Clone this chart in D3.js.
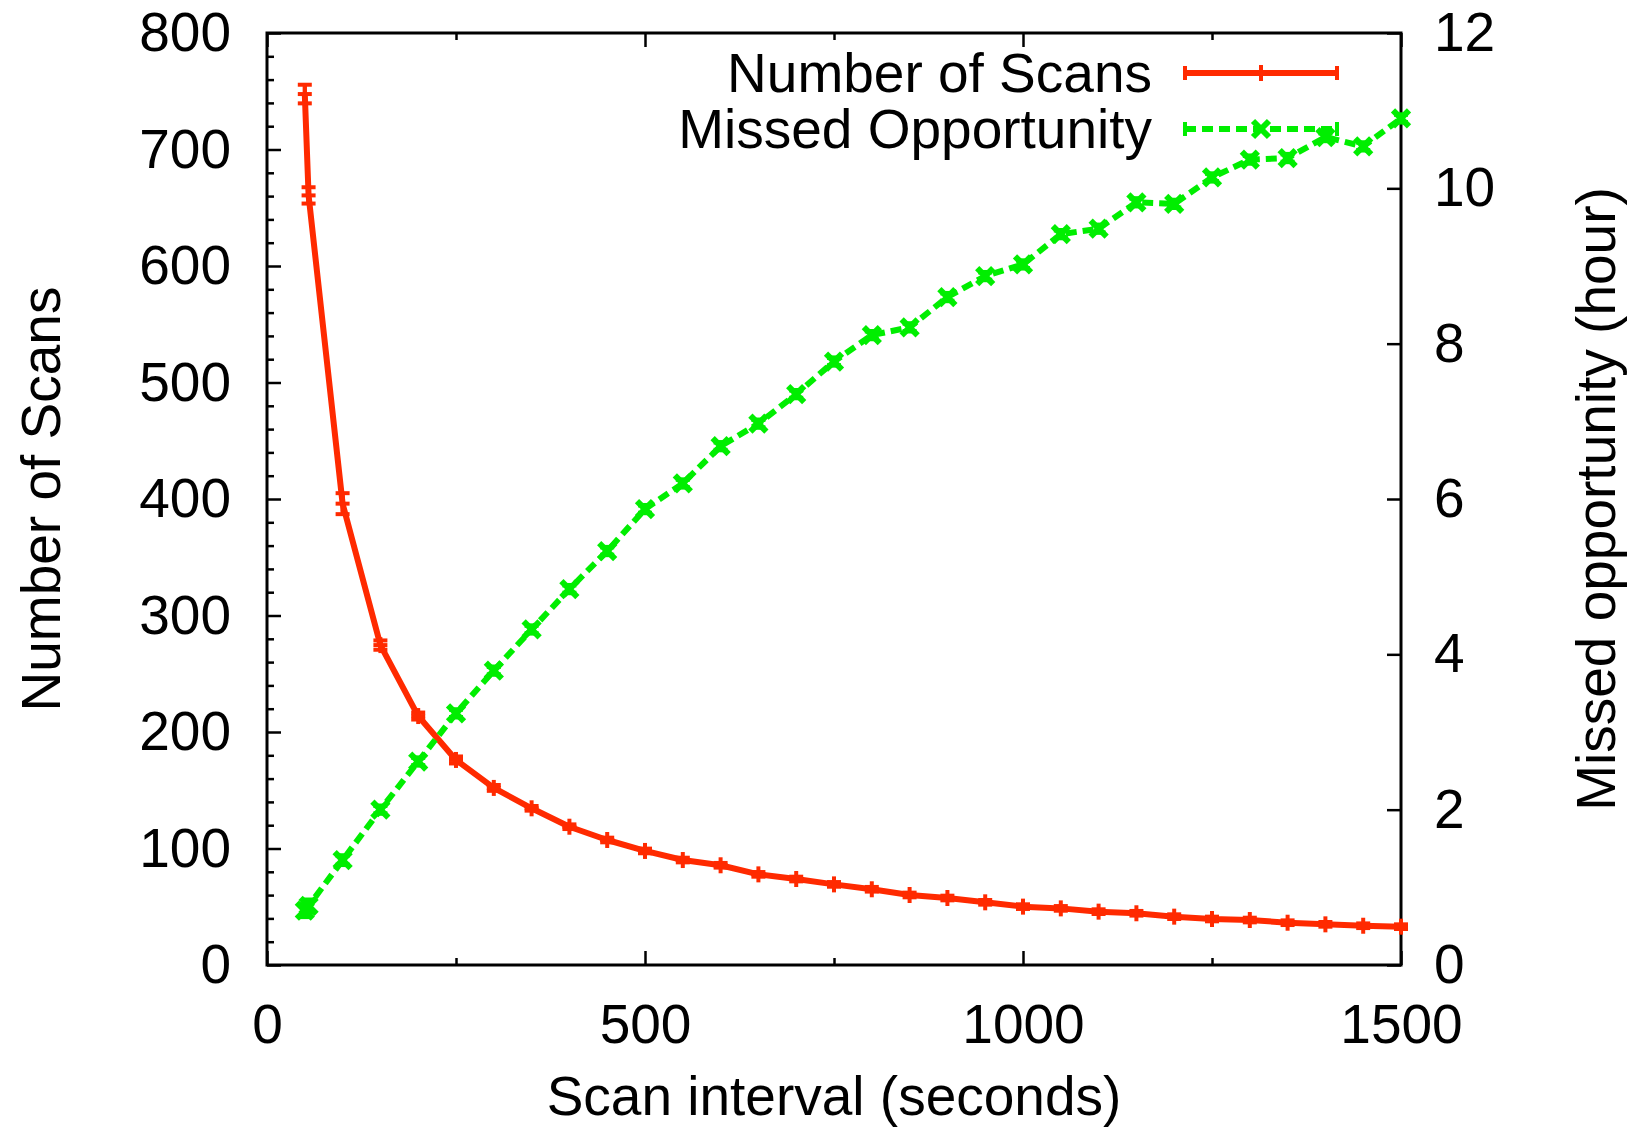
<!DOCTYPE html>
<html>
<head>
<meta charset="utf-8">
<script src="https://cdn.jsdelivr.net/npm/d3@7"></script>
<style>
  html, body { margin: 0; padding: 0; background: #fff; }
  svg { display: block; }
  text { font-family: "Liberation Sans", Arial, Helvetica, sans-serif; fill: #000; }
</style>
</head>
<body>
<svg id="chart" width="1632" height="1131"></svg>
<script>
// Scan interval in seconds
const intervals = [50, 55, 100, 150, 200, 250, 300, 350, 400, 450, 500, 550, 600, 650, 700, 750,
                   800, 850, 900, 950, 1000, 1050, 1100, 1150, 1200, 1250, 1300, 1350, 1400, 1450, 1500];
// Number of scans (left axis) with error half-widths
const scans = [747.6, 660.6, 396, 274.6, 213.7, 176, 152, 134.5, 118.7, 107.3, 97.9, 90.1, 85.6, 77.8,
               73.8, 69.2, 65.0, 60.1, 57.5, 53.8, 50.1, 48.6, 45.8, 44.4, 41.5, 39.5, 38.6, 36.3, 34.9, 33.7, 32.9];
const scansErr = [8, 7, 9, 4, 3, 3, 2.5, 2, 2, 2, 2, 2, 2, 2, 2, 2, 2, 2, 2, 2, 2, 2, 2, 2, 2, 2, 2, 2, 2, 2, 2];
// Missed opportunity in hours (right axis) with error half-widths
const missed = [0.70, 0.76, 1.35, 2.0, 2.62, 3.24, 3.79, 4.32, 4.84, 5.33, 5.87, 6.20, 6.68, 6.97, 7.35, 7.77,
                8.11, 8.21, 8.60, 8.87, 9.02, 9.41, 9.48, 9.82, 9.80, 10.14, 10.37, 10.39, 10.66, 10.54, 10.90];
const missedErr = [0.08, 0.08, 0.06, 0.05, 0.05, 0.05, 0.05, 0.05, 0.05, 0.05, 0.05, 0.05, 0.05, 0.05, 0.05, 0.05,
                   0.05, 0.05, 0.05, 0.05, 0.05, 0.05, 0.05, 0.05, 0.05, 0.05, 0.05, 0.05, 0.05, 0.05, 0.05];

// Tick labels
const xTicks = [0, 500, 1000, 1500];
const xMinorTicks = [250, 750, 1250];
const yLeftTicks = [0, 100, 200, 300, 400, 500, 600, 700, 800];
const yRightTicks = [0, 2, 4, 6, 8, 10, 12];

const seriesNames = ["Number of Scans", "Missed Opportunity"];
const RED = "#ff2a00", GREEN = "#00ee00";
const FONT = 55;

const svg = d3.select("#chart");
const L = 267, R = 1401, T = 33, B = 965;

const x = d3.scaleLinear().domain([0, 1500]).range([L, R]);
const yL = d3.scaleLinear().domain([0, 800]).range([B, T]);
const yR = d3.scaleLinear().domain([0, 12]).range([B, T]);
const fmt = d3.format("d");

function styleAxis(g, labels) {
  g.select(".domain").remove();
  g.selectAll(".tick line").attr("stroke", "#000").attr("stroke-width", 2.5);
  g.attr("font-size", FONT).attr("font-family", null);
  if (!labels) g.selectAll(".tick text").remove();
}

// Left axis: major + minor ticks pointing inward
svg.append("g").attr("transform", `translate(${L},0)`)
  .call(d3.axisLeft(yL).tickValues(yLeftTicks).tickFormat(fmt).tickSize(-14).tickPadding(36))
  .call(g => styleAxis(g, true));
svg.append("g").attr("transform", `translate(${L},0)`)
  .call(d3.axisLeft(yL).tickValues(d3.range(0, 801, 20).filter(v => v % 100)).tickSize(-7).tickFormat(""))
  .call(g => styleAxis(g, false));

// Right axis
svg.append("g").attr("transform", `translate(${R},0)`)
  .call(d3.axisRight(yR).tickValues(yRightTicks).tickFormat(fmt).tickSize(-14).tickPadding(33))
  .call(g => styleAxis(g, true));

// Bottom axis
svg.append("g").attr("transform", `translate(0,${B})`)
  .call(d3.axisBottom(x).tickValues(xTicks).tickFormat(fmt).tickSize(-14).tickPadding(39))
  .call(g => styleAxis(g, true));
svg.append("g").attr("transform", `translate(0,${B})`)
  .call(d3.axisBottom(x).tickValues(xMinorTicks).tickSize(-7).tickFormat(""))
  .call(g => styleAxis(g, false));
// Top mirror ticks
svg.append("g").attr("transform", `translate(0,${T})`)
  .call(d3.axisTop(x).tickValues(xTicks).tickSize(-14).tickFormat(""))
  .call(g => styleAxis(g, false));
svg.append("g").attr("transform", `translate(0,${T})`)
  .call(d3.axisTop(x).tickValues(xMinorTicks).tickSize(-7).tickFormat(""))
  .call(g => styleAxis(g, false));

// Plot border
svg.append("rect").attr("x", L).attr("y", T).attr("width", R - L).attr("height", B - T)
  .attr("fill", "none").attr("stroke", "#000").attr("stroke-width", 3);

// Axis titles
svg.append("text").attr("transform", `translate(60,${(T + B) / 2}) rotate(-90)`)
  .attr("text-anchor", "middle").attr("font-size", FONT).text("Number of Scans");
svg.append("text").attr("transform", `translate(1615,${(T + B) / 2}) rotate(-90)`)
  .attr("text-anchor", "middle").attr("font-size", FONT).text("Missed opportunity (hour)");
svg.append("text").attr("x", (L + R) / 2).attr("y", 1115)
  .attr("text-anchor", "middle").attr("font-size", FONT).text("Scan interval (seconds)");

const scanData = intervals.map((t, i) => ({ x: t, v: scans[i], e: scansErr[i] }));
const missData = intervals.map((t, i) => ({ x: t, v: missed[i], e: missedErr[i] }));

const plot = svg.append("g");
const CAP = 7;

function errorBars(g, data, yScale, color, width) {
  const eg = g.append("g").attr("stroke", color).attr("stroke-width", width).attr("fill", "none");
  data.forEach(d => {
    const px = x(d.x), y0 = yScale(d.v - d.e), y1 = yScale(d.v + d.e);
    eg.append("line").attr("x1", px).attr("x2", px).attr("y1", y0).attr("y2", y1);
    eg.append("line").attr("x1", px - CAP).attr("x2", px + CAP).attr("y1", y0).attr("y2", y0);
    eg.append("line").attr("x1", px - CAP).attr("x2", px + CAP).attr("y1", y1).attr("y2", y1);
  });
}

// Number of Scans: solid red with plus markers
plot.append("path").datum(scanData)
  .attr("d", d3.line().x(d => x(d.x)).y(d => yL(d.v)))
  .attr("fill", "none").attr("stroke", RED).attr("stroke-width", 6).attr("stroke-linejoin", "round");
errorBars(plot, scanData, yL, RED, 4);
const plusG = plot.append("g").attr("stroke", RED).attr("stroke-width", 4);
scanData.forEach(d => {
  const px = x(d.x), py = yL(d.v);
  plusG.append("line").attr("x1", px - 7).attr("x2", px + 7).attr("y1", py).attr("y2", py);
  plusG.append("line").attr("x1", px).attr("x2", px).attr("y1", py - 8).attr("y2", py + 8);
});

// Missed Opportunity: dashed green with cross markers
plot.append("path").datum(missData)
  .attr("d", d3.line().x(d => x(d.x)).y(d => yR(d.v)))
  .attr("fill", "none").attr("stroke", GREEN).attr("stroke-width", 6)
  .attr("stroke-dasharray", "11,6");
errorBars(plot, missData, yR, GREEN, 4.5);
const crossG = plot.append("g").attr("stroke", GREEN).attr("stroke-width", 6);
missData.forEach(d => {
  const px = x(d.x), py = yR(d.v);
  crossG.append("line").attr("x1", px - 8).attr("x2", px + 8).attr("y1", py - 8).attr("y2", py + 8);
  crossG.append("line").attr("x1", px - 8).attr("x2", px + 8).attr("y1", py + 8).attr("y2", py - 8);
});

// Legend
const legend = svg.append("g");
const lx0 = 1185, lx1 = 1337, lxm = (lx0 + lx1) / 2;
const legendRows = [
  { name: seriesNames[0], y: 73, color: RED, dash: null, w: 6, marker: "plus" },
  { name: seriesNames[1], y: 129, color: GREEN, dash: "11,6", w: 6, marker: "cross" }
];
legendRows.forEach(r => {
  legend.append("text").attr("x", 1152).attr("y", r.y + 19).attr("text-anchor", "end")
    .attr("font-size", FONT).text(r.name);
  legend.append("line").attr("x1", lx0).attr("x2", lx1).attr("y1", r.y).attr("y2", r.y)
    .attr("stroke", r.color).attr("stroke-width", r.w).attr("stroke-dasharray", r.dash);
  [lx0, lx1].forEach(cx => legend.append("line").attr("x1", cx).attr("x2", cx)
    .attr("y1", r.y - 7).attr("y2", r.y + 7).attr("stroke", r.color).attr("stroke-width", 4));
  if (r.marker === "plus") {
    legend.append("line").attr("x1", lxm).attr("x2", lxm).attr("y1", r.y - 8).attr("y2", r.y + 8)
      .attr("stroke", r.color).attr("stroke-width", 4);
  } else {
    legend.append("line").attr("x1", lxm - 8).attr("x2", lxm + 8).attr("y1", r.y - 8).attr("y2", r.y + 8)
      .attr("stroke", r.color).attr("stroke-width", 6);
    legend.append("line").attr("x1", lxm - 8).attr("x2", lxm + 8).attr("y1", r.y + 8).attr("y2", r.y - 8)
      .attr("stroke", r.color).attr("stroke-width", 6);
  }
});
</script>
</body>
</html>
